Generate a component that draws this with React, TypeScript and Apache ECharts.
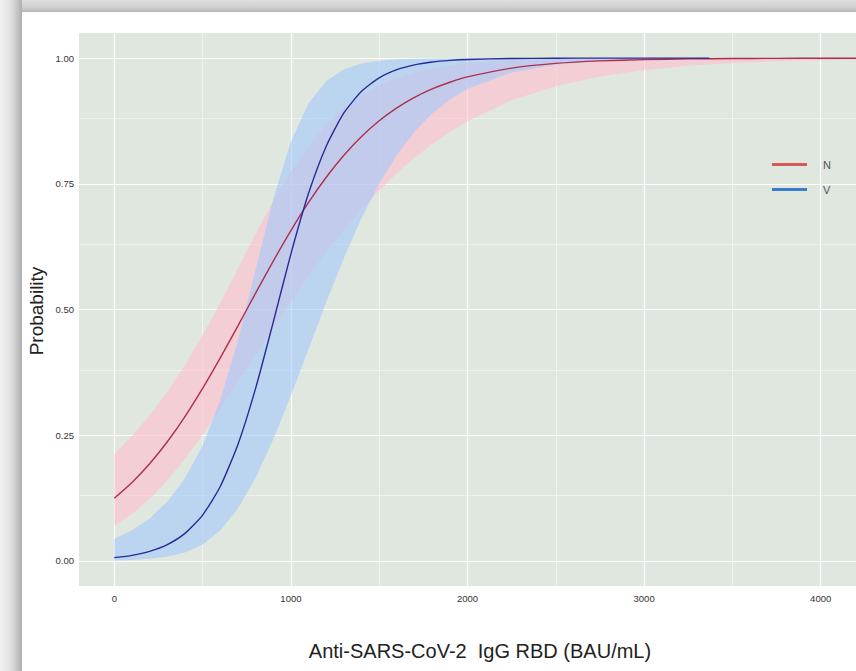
import React, { useEffect, useRef } from "react";
import * as echarts from "echarts";

// x values (Anti-SARS-CoV-2 IgG RBD, BAU/mL)
const xN = [0, 100, 200, 300, 400, 500, 600, 700, 800, 900, 1000, 1100, 1200, 1300, 1400, 1500, 1600, 1700, 1800, 1900, 2000, 2250, 2500, 2750, 3000, 3250, 3500, 3750, 4000, 4200];
const nMean = [0.1245, 0.1558, 0.1931, 0.2369, 0.287, 0.343, 0.4037, 0.4675, 0.5325, 0.5963, 0.657, 0.713, 0.7631, 0.8069, 0.8442, 0.8755, 0.9012, 0.922, 0.9388, 0.9521, 0.9627, 0.9802, 0.9895, 0.9945, 0.9971, 0.9985, 0.9992, 0.9996, 0.9998, 0.9999];
const nLow = [0.0697, 0.0934, 0.1233, 0.1599, 0.203, 0.2513, 0.3032, 0.3571, 0.4112, 0.4648, 0.5167, 0.5666, 0.614, 0.6582, 0.6993, 0.7369, 0.7712, 0.8019, 0.8292, 0.8533, 0.8745, 0.9161, 0.9446, 0.9637, 0.9764, 0.9847, 0.9901, 0.9936, 0.9959, 0.9971];
const nHigh = [0.2128, 0.2484, 0.2893, 0.336, 0.3889, 0.4482, 0.513, 0.5813, 0.65, 0.7153, 0.7744, 0.8252, 0.8672, 0.9007, 0.9266, 0.9463, 0.961, 0.9719, 0.9798, 0.9855, 0.9896, 0.9955, 0.9981, 0.9992, 0.9997, 0.9999, 1.0, 1.0, 1.0, 1.0];

const xV = [0, 100, 200, 300, 400, 500, 600, 700, 800, 900, 1000, 1100, 1200, 1300, 1400, 1500, 1600, 1700, 1800, 1900, 2000, 2250, 2500, 2750, 3000, 3370];
const vMean = [0.0064, 0.011, 0.0189, 0.0323, 0.0547, 0.0911, 0.148, 0.2315, 0.343, 0.475, 0.6106, 0.7311, 0.8249, 0.8909, 0.934, 0.9608, 0.977, 0.9866, 0.9922, 0.9955, 0.9974, 0.9993, 0.9998, 1.0, 1.0, 1.0];
const vLow = [0.0009, 0.0019, 0.004, 0.0083, 0.0168, 0.0327, 0.0605, 0.1042, 0.1653, 0.2416, 0.3287, 0.4214, 0.5142, 0.6023, 0.6818, 0.7505, 0.8075, 0.8536, 0.8898, 0.9178, 0.939, 0.9716, 0.9869, 0.994, 0.9973, 0.9991];
const vHigh = [0.044, 0.0609, 0.0845, 0.1176, 0.1641, 0.2292, 0.3193, 0.4381, 0.5791, 0.7199, 0.834, 0.9102, 0.9545, 0.9778, 0.9894, 0.995, 0.9977, 0.9989, 0.9995, 0.9998, 0.9999, 1.0, 1.0, 1.0, 1.0, 1.0];

const yTicks = [0, 0.25, 0.5, 0.75, 1];
const yMinor = [0.125, 0.375, 0.625, 0.875];
const xTicks = [0, 1000, 2000, 3000, 4000];
const xMinor = [500, 1500, 2500, 3500];

const groups = ["N", "V"];

export default function App() {
  const ref = useRef<HTMLDivElement>(null);
  useEffect(() => {
    if (!ref.current) return;
    const chart = echarts.init(ref.current, null, { renderer: "svg" });
    const pairs = (xs: number[], ys: number[]) => xs.map((x, i) => [x, ys[i]]);
    const bandSeries = (name: string, xs: number[], lo: number[], hi: number[], color: string) => {
      const rows = xs.map((x, i) => [x, lo[i], hi[i]]);
      return {
        name: name + " band",
        type: "custom",
        data: rows,
        silent: true,
        z: 2,
        encode: { x: 0, y: [1, 2] },
        renderItem: (params: any, api: any) => {
          if (params.dataIndex !== 0) return null;
          const top = rows.map((r) => api.coord([r[0], r[2]]));
          const bottom = rows.map((r) => api.coord([r[0], r[1]])).reverse();
          return {
            type: "polygon",
            shape: { points: top.concat(bottom), smooth: 0 },
            style: { fill: color, stroke: "none" },
          };
        },
      };
    };
    const major = { color: "#ffffff", width: 1.2, type: "solid" };
    const minor = { color: "rgba(255,255,255,0.85)", width: 0.55, type: "solid" };
    const tickFont = "Liberation Sans Narrow, Liberation Sans, Arial";
    chart.setOption({
      animation: false,
      backgroundColor: "#ffffff",
      grid: {
        left: 79,
        right: 0,
        top: 33,
        bottom: 85,
        show: true,
        backgroundColor: "#dfe7df",
        borderWidth: 0,
      },
      xAxis: {
        type: "value",
        min: -200,
        max: 4200,
        splitLine: { show: false },
        axisLine: { show: false },
        axisTick: { show: true, customValues: xTicks, length: 3, lineStyle: { color: "#444", width: 0.8 } },
        axisLabel: {
          customValues: xTicks,
          margin: 7,
          fontSize: 9.5,
          color: "#333",
          fontFamily: tickFont,
          formatter: (v: number) => String(v),
        },
      },
      yAxis: {
        type: "value",
        min: -0.05,
        max: 1.05,
        splitLine: { show: false },
        axisLine: { show: false },
        axisTick: { show: true, customValues: yTicks, length: 3, lineStyle: { color: "#444", width: 0.8 } },
        axisLabel: {
          customValues: yTicks,
          margin: 5,
          fontSize: 9.5,
          color: "#333",
          fontFamily: tickFont,
          formatter: (v: number) => v.toFixed(2),
        },
      },
      legend: {
        orient: "vertical",
        left: 767,
        top: 154,
        itemWidth: 35,
        itemHeight: 3,
        itemGap: 14,
        icon: "rect",
        textStyle: { fontSize: 11, color: "#555", fontFamily: "Liberation Sans, Arial", padding: [0, 0, 0, 11] },
        data: [
          { name: groups[0], itemStyle: { color: "#d65a5a" } },
          { name: groups[1], itemStyle: { color: "#3a7cc8" } },
        ],
      },
      graphic: [
        {
          type: "rect",
          shape: { x: 0, y: 0, width: 856, height: 12 },
          style: {
            fill: new echarts.graphic.LinearGradient(0, 0, 0, 1, [
              { offset: 0, color: "#dedede" },
              { offset: 0.6, color: "#cfcfcf" },
              { offset: 1, color: "#b6b6b6" },
            ]),
          },
          z: 100,
        },
        {
          type: "rect",
          shape: { x: 0, y: 0, width: 22, height: 671 },
          style: {
            fill: new echarts.graphic.LinearGradient(0, 0, 1, 0, [
              { offset: 0, color: "#f3f3f3" },
              { offset: 0.45, color: "#e2e2e2" },
              { offset: 0.7, color: "#cdcdcd" },
              { offset: 1, color: "#aeaeae" },
            ]),
          },
          z: 100,
        },
        {
          type: "text",
          x: 36,
          y: 311,
          rotation: Math.PI / 2,
          style: {
            text: "Probability",
            fontSize: 19,
            fill: "#222",
            fontFamily: "Liberation Sans, Arial",
            align: "center",
            verticalAlign: "middle",
          },
        },
        {
          type: "text",
          x: 480,
          y: 651,
          style: {
            text: "Anti-SARS-CoV-2  IgG RBD (BAU/mL)",
            fontSize: 20,
            fill: "#222",
            fontFamily: "Liberation Sans, Arial",
            align: "center",
            verticalAlign: "middle",
          },
        },
      ],
      series: [
        {
          name: "grid",
          type: "line",
          data: [],
          silent: true,
          z: 1,
          markLine: {
            silent: true,
            z: 1,
            symbol: ["none", "none"],
            label: { show: false },
            data: [
              ...yMinor.map((v) => ({ yAxis: v, lineStyle: minor })),
              ...xMinor.map((v) => ({ xAxis: v, lineStyle: minor })),
              ...yTicks.map((v) => ({ yAxis: v, lineStyle: major })),
              ...xTicks.map((v) => ({ xAxis: v, lineStyle: major })),
            ],
          },
        },
        bandSeries("N", xN, nLow, nHigh, "rgba(255,190,206,0.62)"),
        bandSeries("V", xV, vLow, vHigh, "rgba(165,202,252,0.62)"),
        {
          name: groups[0],
          type: "line",
          data: pairs(xN, nMean),
          showSymbol: false,
          symbol: "none",
          smooth: 0.2,
          lineStyle: { color: "#ad2f4a", width: 1.4 },
          itemStyle: { color: "#ad2f4a" },
          z: 3,
        },
        {
          name: groups[1],
          type: "line",
          data: pairs(xV, vMean),
          showSymbol: false,
          symbol: "none",
          smooth: 0.2,
          lineStyle: { color: "#2a2a96", width: 1.4 },
          itemStyle: { color: "#2a2a96" },
          z: 3,
        },
      ],
    });
    return () => chart.dispose();
  }, []);
  return <div ref={ref} style={{ position: "absolute", left: 0, top: 0, width: 856, height: 671 }} />;
}
